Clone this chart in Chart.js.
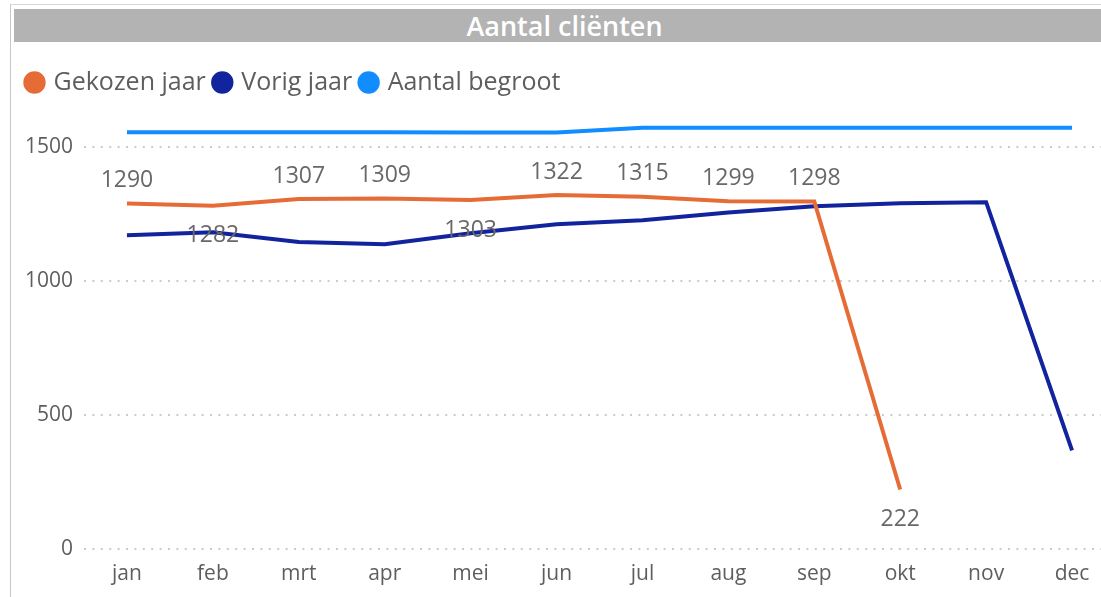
<!DOCTYPE html>
<html>
<head>
<meta charset="utf-8">
<script src="https://cdn.jsdelivr.net/npm/chart.js@4"></script>
<style>
  body { margin: 0; background: #fff; overflow: hidden; width: 1101px; height: 597px; position: relative; }
  #frame { position: absolute; left: 10px; top: 4px; width: 1200px; height: 700px; border-left: 1px solid #c8c8c8; border-top: 1px solid #d8d8d8; }
  #title { position: absolute; left: 14px; top: 9px; width: 1087px; height: 33px; background: #b3b3b3; color: #fff;
    font: 600 27px "Open Sans", "Noto Sans", sans-serif; line-height: 33px; text-align: center; padding-left: 14px; box-sizing: border-box; }
  #wrap { position: absolute; left: 0; top: 44px; width: 1120px; height: 553px; }
</style>
</head>
<body>
<div id="frame"></div>
<div id="title">Aantal cliënten</div>
<div id="wrap"><canvas id="clientChart"></canvas></div>
<script>
const months = ["jan", "feb", "mrt", "apr", "mei", "jun", "jul", "aug", "sep", "okt", "nov", "dec"];
const gekozenJaar = [1290, 1282, 1307, 1309, 1303, 1322, 1315, 1299, 1298, 222, null, null];
const vorigJaar = [1172, 1183, 1146, 1138, 1179, 1213, 1228, 1257, 1280, 1291, 1295, 368];
const aantalBegroot = [1556, 1556, 1556, 1556, 1555, 1555, 1573, 1573, 1573, 1573, 1573, 1573];
const yTicks = [0, 500, 1000, 1500];
// where the value label goes for each "Gekozen jaar" point
const labelSide = ["above", "below", "above", "above", "below", "above", "above", "above", "above", "below"];

const textGray = "#605e5c";
const font = '"Open Sans", "Noto Sans", sans-serif';

// draws the numbers next to the orange line
const valueLabels = {
  id: "valueLabels",
  afterDatasetsDraw(chart) {
    const ctx = chart.ctx;
    const meta = chart.getDatasetMeta(0);
    ctx.save();
    ctx.font = "23px " + font;
    ctx.fillStyle = "#6a6866";
    ctx.textAlign = "center";
    ctx.textBaseline = "middle";
    meta.data.forEach((pt, i) => {
      const v = gekozenJaar[i];
      if (v == null) return;
      const dy = labelSide[i] === "below" ? 30 : -23;
      ctx.fillText(String(v), pt.x, pt.y + dy);
    });
    ctx.restore();
  },
};

const ctx = document.getElementById("clientChart").getContext("2d");
new Chart(ctx, {
  type: "line",
  data: {
    labels: months,
    datasets: [
      { label: "Gekozen jaar", data: gekozenJaar, borderColor: "#e66c37", backgroundColor: "#e66c37" },
      { label: "Vorig jaar", data: vorigJaar, borderColor: "#12239e", backgroundColor: "#12239e" },
      { label: "Aantal begroot", data: aantalBegroot, borderColor: "#118dff", backgroundColor: "#118dff" },
    ],
  },
  options: {
    responsive: true,
    maintainAspectRatio: false,
    animation: false,
    datasets: { line: { borderWidth: 4, pointRadius: 0, tension: 0, spanGaps: false } },
    layout: { padding: { left: 18, top: 16, right: 5, bottom: 0 } },
    plugins: {
      tooltip: { enabled: false },
      legend: {
        position: "top",
        align: "start",
        labels: {
          usePointStyle: true,
          pointStyle: "circle",
          boxWidth: 13,
          boxHeight: 13,
          padding: 10,
          color: textGray,
          font: { size: 25, family: font },
        },
      },
    },
    scales: {
      x: {
        offset: true,
        grid: { display: false, drawTicks: false },
        border: { display: false },
        ticks: { color: textGray, font: { size: 21, family: font }, padding: 12 },
        afterFit: (s) => { s.height = 48; },
      },
      y: {
        min: 0,
        max: 1658,
        border: { display: false, dash: [2, 6.4] },
        grid: { color: "#cccccc", lineWidth: 2, drawTicks: false },
        ticks: {
          color: textGray,
          font: { size: 21, family: font },
          padding: 11,
          callback: (v) => String(v),
        },
        afterBuildTicks: (s) => { s.ticks = yTicks.map((v) => ({ value: v })); },
        afterFit: (s) => { s.width = 66; },
      },
    },
  },
  plugins: [valueLabels],
});
</script>
</body>
</html>
